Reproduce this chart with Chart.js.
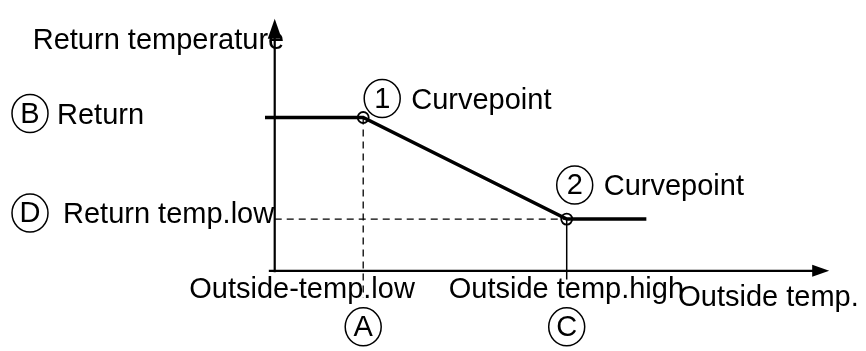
<!DOCTYPE html>
<html>
<head>
<meta charset="utf-8">
<script src="https://cdn.jsdelivr.net/npm/chart.js@4/dist/chart.umd.min.js"></script>
<style>
  html, body { margin: 0; padding: 0; background: #fff; }
  #wrap { width: 866px; height: 351px; }
</style>
</head>
<body>
<div id="wrap"><canvas id="c"></canvas></div>
<script>
// schematic only: x = outside temperature, y = return temperature (arbitrary units)
const curveX = [-0.33, 3.0, 9.9, 12.6];
const curveY = [16, 16, 5.4, 5.4];
const knotX = [3.0, 9.9];
const knotY = [16, 5.4];
const knotNames = ['1', '2'];
const axisX = [-0.2, 18.8];
const axisY = [-0.15, 26.3];
const guideLowEnd = -2.8;   // dashed drop line under point 1
const guideHighEnd = -0.9;  // solid drop line under point 2

const yAxisTitle = 'Return temperature';
const xAxisTitle = 'Outside temp.';
const yLabels = ['Return', 'Return temp.low'];
const yLetters = ['B', 'D'];
const xLabels = ['Outside-temp.low', 'Outside temp.high'];
const xLetters = ['A', 'C'];
const knotLabel = 'Curvepoint';

const FONT = '29px "Liberation Sans", Arial, sans-serif';

function circled(ctx, cx, cy, txt) {
  ctx.beginPath();
  ctx.ellipse(cx, cy, 18, 19, 0, 0, Math.PI * 2);
  ctx.lineWidth = 1.5;
  ctx.stroke();
  ctx.textAlign = 'center';
  ctx.textBaseline = 'middle';
  ctx.fillText(txt, cx, cy + 1);
  ctx.textAlign = 'left';
  ctx.textBaseline = 'alphabetic';
}

const decor = {
  id: 'decor',
  afterDatasetsDraw(chart) {
    const ctx = chart.ctx;
    const xs = chart.scales.x, ys = chart.scales.y;
    const px = v => xs.getPixelForValue(v), py = v => ys.getPixelForValue(v);
    ctx.save();
    ctx.fillStyle = '#000';
    ctx.strokeStyle = '#000';

    // arrow heads
    const x0 = px(0), y0 = py(0);
    const yTop = py(axisY[1]), xEnd = px(axisX[1]);
    ctx.beginPath();
    ctx.moveTo(x0, yTop);
    ctx.lineTo(x0 - 7, yTop + 20);
    ctx.lineTo(x0 + 7, yTop + 20);
    ctx.closePath();
    ctx.fill();
    ctx.beginPath();
    ctx.moveTo(xEnd, y0);
    ctx.lineTo(xEnd - 17, y0 - 6);
    ctx.lineTo(xEnd - 17, y0 + 6);
    ctx.closePath();
    ctx.fill();

    ctx.font = FONT;
    // axis titles
    ctx.fillText(yAxisTitle, x0 - 242, yTop + 30);
    ctx.fillText(xAxisTitle, xEnd - 151, y0 + 35);

    // y side labels
    const yVals = [knotY[0], knotY[1]];
    yVals.forEach((v, i) => {
      const yy = py(v);
      const off = i === 0 ? -4 : -6;
      circled(ctx, 30, yy + off, yLetters[i]);
      ctx.fillText(yLabels[i], i === 0 ? 57 : 63, yy + off + 10);
    });

    // x side labels
    const xVals = [knotX[0], knotX[1]];
    xVals.forEach((v, i) => {
      const xx = px(v);
      ctx.fillText(xLabels[i], i === 0 ? xx - 174 : xx - 118, y0 + 27);
      circled(ctx, xx, y0 + 56, xLetters[i]);
    });

    // curve point labels
    knotX.forEach((v, i) => {
      const xx = px(v), yy = py(knotY[i]);
      const cx = xx + (i === 0 ? 19 : 8), cy = yy - (i === 0 ? 19 : 34);
      circled(ctx, cx, cy, knotNames[i]);
      ctx.fillText(knotLabel, cx + 29, cy + 10);
    });
    ctx.restore();
  }
};

const dash = [7, 5];
new Chart(document.getElementById('c'), {
  type: 'scatter',
  data: {
    datasets: [
      { // dashed level of point 2
        data: [{ x: 0, y: knotY[1] }, { x: knotX[1], y: knotY[1] }],
        showLine: true, borderColor: '#000', borderWidth: 1.3, borderDash: dash, pointRadius: 0
      },
      { // dashed drop of point 1
        data: [{ x: knotX[0], y: knotY[0] }, { x: knotX[0], y: guideLowEnd }],
        showLine: true, borderColor: '#000', borderWidth: 1.3, borderDash: dash, pointRadius: 0
      },
      { // solid drop of point 2
        data: [{ x: knotX[1], y: knotY[1] }, { x: knotX[1], y: guideHighEnd }],
        showLine: true, borderColor: '#000', borderWidth: 1.5, pointRadius: 0
      },
      { // x axis
        data: [{ x: axisX[0], y: 0 }, { x: axisX[1] - 0.4, y: 0 }],
        showLine: true, borderColor: '#000', borderWidth: 2.2, pointRadius: 0
      },
      { // y axis
        data: [{ x: 0, y: axisY[0] }, { x: 0, y: axisY[1] - 1 }],
        showLine: true, borderColor: '#000', borderWidth: 2.2, pointRadius: 0
      },
      { // heating curve
        data: curveX.map((x, i) => ({ x, y: curveY[i] })),
        showLine: true, borderColor: '#000', borderWidth: 3.5, pointRadius: 0
      },
      { // curve points
        data: knotX.map((x, i) => ({ x, y: knotY[i] })),
        showLine: false, pointRadius: 5.5, pointBackgroundColor: '#fff',
        pointBorderColor: '#000', pointBorderWidth: 1.8
      }
    ]
  },
  options: {
    responsive: true,
    maintainAspectRatio: false,
    animation: false,
    layout: { padding: 0 },
    plugins: { legend: { display: false }, tooltip: { enabled: false } },
    scales: {
      x: { type: 'linear', display: false, min: -9.067, max: 19.8 },
      y: { type: 'linear', display: false, min: -7.6, max: 27.5 }
    }
  },
  plugins: [decor]
});
</script>
</body>
</html>
